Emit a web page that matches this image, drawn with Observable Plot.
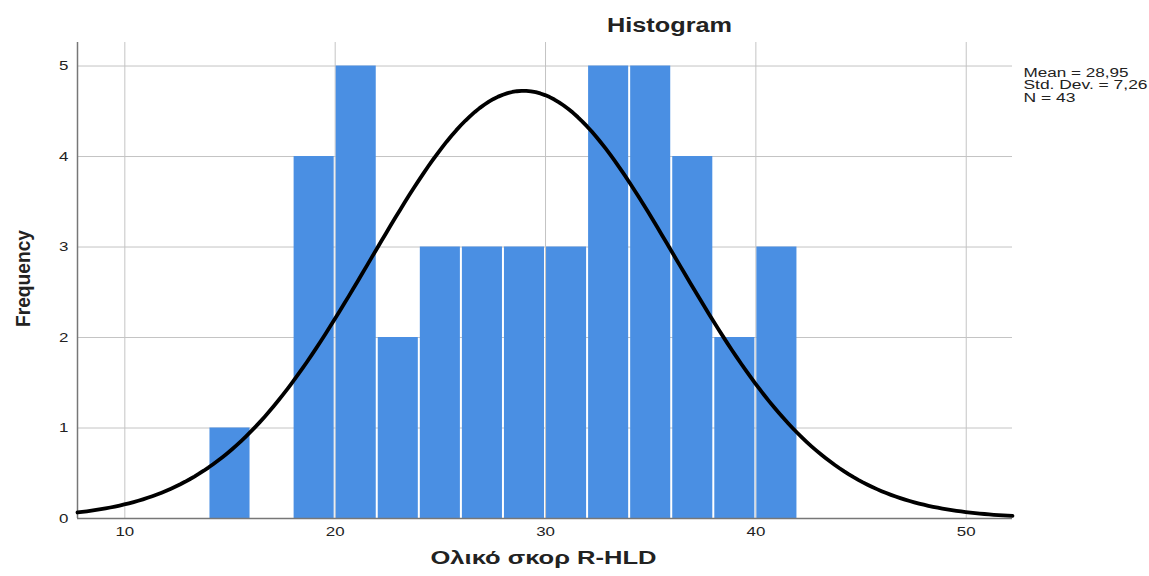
<!DOCTYPE html>
<html><head><meta charset="utf-8">
<script src="https://cdn.jsdelivr.net/npm/d3@7"></script>
<script src="https://cdn.jsdelivr.net/npm/@observablehq/plot@0.6"></script>
<style>
body{margin:0;background:#fff;}
</style>
</head><body>
<div id="chart"></div>
<script>
// Histogram bins (lower edge, upper edge) and frequencies
const binStart = [14, 16, 18, 20, 22, 24, 26, 28, 30, 32, 34, 36, 38, 40];
const binEnd   = [16, 18, 20, 22, 24, 26, 28, 30, 32, 34, 36, 38, 40, 42];
const freq     = [1, 0, 4, 5, 2, 3, 3, 3, 3, 5, 5, 4, 2, 3];
const xTicks = [10, 20, 30, 40, 50];
const yTicks = [0, 1, 2, 3, 4, 5];
const statsLines = ["Mean = 28,95", "Std. Dev. = 7,26", "N = 43"];
const mean = 28.95, sd = 7.26, n = 43, binWidth = 2;
const xDomain = [7.75, 52.2];
const yDomain = [0, 5.26];

const bars = binStart.map((s, i) => ({x1: s, x2: binEnd[i], y: freq[i]})).filter(d => d.y > 0);

// fitted normal curve, scaled to frequency
const curve = d3.range(0, 201).map(i => {
  const x = xDomain[0] + (xDomain[1] - xDomain[0]) * i / 200;
  const y = n * binWidth / (sd * Math.sqrt(2 * Math.PI)) * Math.exp(-0.5 * ((x - mean) / sd) ** 2);
  return {x, y};
});

const font = "'Liberation Sans', Arial, sans-serif";
const txt = "#222";
const chart = Plot.plot({
  width: 1149,
  height: 576,
  marginLeft: 77,
  marginRight: 137,
  marginTop: 42,
  marginBottom: 58,
  style: {fontFamily: font, fontSize: "13px", color: txt, background: "#fff"},
  x: {domain: xDomain, ticks: xTicks},
  y: {domain: yDomain, ticks: yTicks},
  marks: [
    Plot.gridX(xTicks, {stroke: "#c4c4c4", strokeOpacity: 1}),
    Plot.gridY(yTicks, {stroke: "#c4c4c4", strokeOpacity: 1}),
    Plot.rectY(bars, {x1: "x1", x2: "x2", y: "y", fill: "#4a8fe3", insetLeft: 1, insetRight: 1}),
    Plot.ruleX([xDomain[0]], {stroke: "#777", strokeWidth: 1.5}),
    Plot.ruleY([0], {stroke: "#777", strokeWidth: 1.5}),
    Plot.line(curve, {x: "x", y: "y", stroke: "#000", strokeWidth: 3.8}),
    Plot.axisX(xTicks, {tickSize: 0, tickPadding: 8, fontSize: 13, label: null, tickFormat: "d"}),
    Plot.axisY(yTicks, {tickSize: 0, tickPadding: 9, fontSize: 13, label: null, tickFormat: "d"}),
    Plot.text(["Histogram"], {frameAnchor: "top-left", lineAnchor: "middle", dx: 592, dy: -17, fontSize: 20, fontWeight: "bold", textAnchor: "middle", fill: txt}),
    Plot.text(["Ολικό σκορ R-HLD"], {frameAnchor: "bottom-left", lineAnchor: "middle", dx: 466, dy: 40, fontSize: 18, fontWeight: "bold", textAnchor: "middle", fill: txt}),
    Plot.text(["Frequency"], {frameAnchor: "left", dx: -54, dy: -2, rotate: -90, fontSize: 20, fontWeight: "bold", textAnchor: "middle", fill: txt}),
    Plot.text([statsLines[0]], {frameAnchor: "top-left", lineAnchor: "middle", dx: 946, dy: 30, textAnchor: "start", fontSize: 12.5, fill: txt}),
    Plot.text([statsLines[1]], {frameAnchor: "top-left", lineAnchor: "middle", dx: 946, dy: 42.5, textAnchor: "start", fontSize: 12.5, fill: txt}),
    Plot.text([statsLines[2]], {frameAnchor: "top-left", lineAnchor: "middle", dx: 946, dy: 55, textAnchor: "start", fontSize: 12.5, fill: txt})
  ]
});
document.getElementById("chart").appendChild(chart);

// stretch texts horizontally to match the reference's wide glyphs
const targetLen = {"Histogram": 125, "Ολικό σκορ R-HLD": 226, "Frequency": 97,
  "Mean = 28,95": 105, "Std. Dev. = 7,26": 124, "N = 43": 52};
d3.select(chart).selectAll("text").each(function() {
  const s = this.textContent;
  const L = targetLen[s] !== undefined ? targetLen[s] : this.getComputedTextLength() * 1.3;
  this.setAttribute("textLength", L);
  this.setAttribute("lengthAdjust", "spacingAndGlyphs");
});
</script>
</body></html>
